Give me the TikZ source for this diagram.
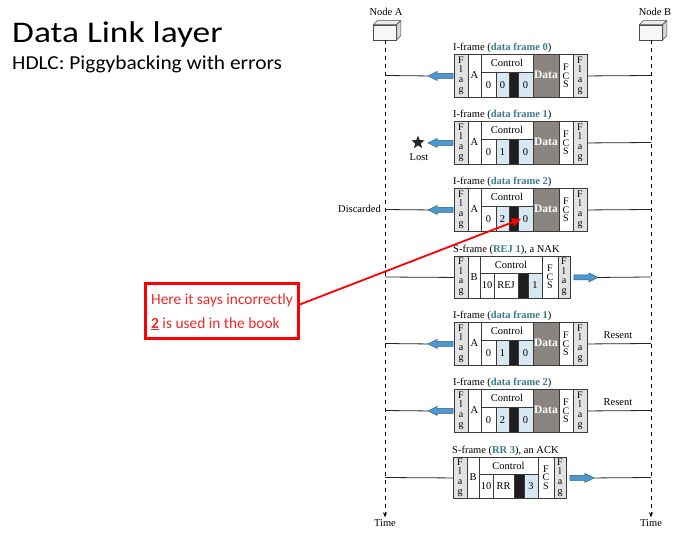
\documentclass[tikz,border=0pt]{standalone}
\usepackage{fontspec}
\setmainfont{Liberation Serif}
\newfontfamily\calib{Carlito}
\usetikzlibrary{arrows.meta,shapes.geometric,calc}
\definecolor{outl}{HTML}{3A3A3A}
\definecolor{flagfill}{HTML}{E2E2E2}
\definecolor{ltblue}{HTML}{D8E8F2}
\definecolor{blk}{HTML}{1E1E1E}
\definecolor{datagray}{HTML}{8A8581}
\definecolor{teallbl}{HTML}{3B7B8E}
\definecolor{arrblue}{HTML}{4F97CF}
\definecolor{arrdark}{HTML}{2A5F8A}
\definecolor{callred}{HTML}{FF0000}
\definecolor{calltext}{HTML}{F02828}
\tikzset{
 cell/.style={draw=outl,line width=0.6pt},
 frm/.style={draw=outl,line width=0.9pt,rectangle,inner sep=0pt},
 lbl/.style={font=\fontsize{10.5}{12}\selectfont,inner sep=0pt},
 txt/.style={font=\fontsize{10.5}{12}\selectfont,inner sep=0pt},
 vert/.style={font=\fontsize{10}{9.6}\selectfont,align=center,inner sep=0pt},
 vfcs/.style={font=\fontsize{10}{8.6}\selectfont,align=center,inner sep=0pt},
 wire/.style={line width=0.8pt,draw=black!85},
 barrow/.style={fill=arrblue,draw=arrdark,line width=0.5pt},
 life/.style={dash pattern=on 4pt off 4pt,line width=0.6pt,-{Stealth[length=5pt,width=4pt]}},
 nodebox/.style={draw=black!70,fill=black!3,line width=0.5pt,minimum width=23pt,minimum height=15pt,inner sep=0pt},
}
\newcommand\IFrame[4]{% name, ytop, label num, N(S)
 \node[lbl,anchor=south west] (#1lb) at (453,#2-1.5) {I-frame (\textcolor{teallbl}{\textbf{data frame #3}})};
 \draw[cell,fill=flagfill] (454,#2) rectangle (468,#2+43);
 \node[vert] (#1fl) at (461,#2+21.5) {F\\l\\a\\g};
 \draw[cell,fill=white] (468,#2) rectangle (481,#2+43);
 \node[txt] (#1ad) at (474.5,#2+21.5) {A};
 \draw[cell,fill=white] (481,#2) rectangle (533,#2+18);
 \node[txt] (#1ct) at (507,#2+9) {Control};
 \draw[cell,fill=white] (481,#2+18) rectangle (496,#2+43);
 \node[txt] (#1da) at (488.5,#2+31) {0};
 \draw[cell,fill=ltblue] (496,#2+18) rectangle (509,#2+43);
 \node[txt] (#1ns) at (502.5,#2+31) {#4};
 \draw[cell,fill=blk] (509,#2+18) rectangle (518,#2+43);
 \draw[cell,fill=ltblue] (518,#2+18) rectangle (533,#2+43);
 \node[txt] (#1nr) at (525.5,#2+31) {0};
 \draw[cell,fill=datagray] (533,#2) rectangle (559,#2+43);
 \node[txt,text=white,font=\fontsize{11.5}{12}\selectfont\bfseries] (#1dt) at (546,#2+21) {Data};
 \draw[cell,fill=white] (559,#2) rectangle (573,#2+43);
 \node[vfcs] (#1fc) at (566,#2+22) {F\\C\\S};
 \draw[cell,fill=flagfill] (573,#2) rectangle (587,#2+43);
 \node[vert] (#1fr) at (580,#2+21.5) {F\\l\\a\\g};
 \node[frm,minimum width=133pt,minimum height=43pt,anchor=north west] (#1) at (454,#2) {};
}
\newcommand\SFrame[8]{% name, x0, ytop, label, word, nr, wordwidth, height
 \pgfmathsetmacro\SFa{#2+14}
 \pgfmathsetmacro\SFb{\SFa+12}
 \pgfmathsetmacro\SFc{\SFb+14}
 \pgfmathsetmacro\SFd{\SFc+#7}
 \pgfmathsetmacro\SFe{\SFd+10}
 \pgfmathsetmacro\SFf{\SFe+14}
 \pgfmathsetmacro\SFg{\SFf+16}
 \pgfmathsetmacro\SFh{\SFg+12}
 \pgfmathsetmacro\SFyb{#3+#8}
 \pgfmathsetmacro\SFym{#3+17}
 \pgfmathsetmacro\SFyc{#3+#8/2}
 \pgfmathsetmacro\SFyl{(#3+17+#3+#8)/2}
 \pgfmathsetmacro\SFw{\SFh-#2}
 \node[lbl,anchor=south west] (#1lb) at (#2-1,#3-1.5) {#4};
 \draw[cell,fill=flagfill] (#2,#3) rectangle (\SFa,\SFyb);
 \node[vert] (#1fl) at ({(#2+\SFa)/2},\SFyc) {F\\l\\a\\g};
 \draw[cell,fill=white] (\SFa,#3) rectangle (\SFb,\SFyb);
 \node[txt] (#1ad) at ({(\SFa+\SFb)/2},\SFyc) {B};
 \draw[cell,fill=white] (\SFb,#3) rectangle (\SFf,\SFym);
 \node[txt] (#1ct) at ({(\SFb+\SFf)/2},{#3+8.5}) {Control};
 \draw[cell,fill=white] (\SFb,\SFym) rectangle (\SFc,\SFyb);
 \node[txt] (#1da) at ({(\SFb+\SFc)/2},\SFyl) {10};
 \draw[cell,fill=white] (\SFc,\SFym) rectangle (\SFd,\SFyb);
 \node[txt] (#1wd) at ({(\SFc+\SFd)/2},\SFyl) {#5};
 \draw[cell,fill=blk] (\SFd,\SFym) rectangle (\SFe,\SFyb);
 \draw[cell,fill=ltblue] (\SFe,\SFym) rectangle (\SFf,\SFyb);
 \node[txt] (#1nr) at ({(\SFe+\SFf)/2},\SFyl) {#6};
 \draw[cell,fill=white] (\SFf,#3) rectangle (\SFg,\SFyb);
 \node[vfcs] (#1fc) at ({(\SFf+\SFg)/2},\SFyc) {F\\C\\S};
 \draw[cell,fill=flagfill] (\SFg,#3) rectangle (\SFh,\SFyb);
 \node[vert] (#1fr) at ({(\SFg+\SFh)/2},\SFyc) {F\\l\\a\\g};
 \node[frm,minimum width=\SFw pt,minimum height=#8pt,anchor=north west] (#1) at (#2,#3) {};
}
\newcommand\LArrow[1]{%
 \coordinate (#1tip) at ([xshift=-26pt]#1.west);
 \draw[barrow] (#1tip) -- ++(9,-4.5) -- ++(0,2) -- ++(16,0) -- ++(0,5) -- ++(-16,0) -- ++(0,2) -- cycle;
}
\newcommand\RArrow[1]{%
 \coordinate (#1tail) at ([xshift=3pt]#1.east);
 \coordinate (#1tip) at ([xshift=27pt]#1.east);
 \draw[barrow] (#1tail) ++(0,-2.5) -- ++(15,0) -- ++(0,-2) -- (#1tip) -- ++(-9,4.5) -- ++(0,-2) -- ++(-15,0) -- cycle;
}
\begin{document}
\begin{tikzpicture}[x=1pt,y=-1pt]
\useasboundingbox[fill=white] (0,0) rectangle (695,537);
% title
\node[anchor=base west,font=\calib\fontsize{30}{30}\selectfont,inner sep=0pt,xscale=1.18,transform shape] (title) at (12,42.5) {Data Link layer};
\node[anchor=base west,font=\calib\fontsize{19.8}{20}\selectfont,inner sep=0pt,xscale=1.08,transform shape] (subtitle) at (12,69.5) {HDLC: Piggybacking with errors};
% nodes
\node[txt] (lA) at (386,12) {Node A};
\node[txt] (lB) at (655,12) {Node B};
\node[nodebox] (nA) at (385,32.5) {};
\draw[draw=black!70,fill=black!8,line width=0.5pt] (nA.north west) -- ++(4,-4) -- ++(23,0) -- ++(-4,4) -- cycle;
\draw[draw=black!70,fill=black!15,line width=0.5pt] (nA.north east) -- ++(4,-4) -- ++(0,15) -- ++(-4,4) -- cycle;
\node[nodebox] (nB) at (651,32.5) {};
\draw[draw=black!70,fill=black!8,line width=0.5pt] (nB.north west) -- ++(4,-4) -- ++(23,0) -- ++(-4,4) -- cycle;
\draw[draw=black!70,fill=black!15,line width=0.5pt] (nB.north east) -- ++(4,-4) -- ++(0,15) -- ++(-4,4) -- cycle;
\node[txt] (tA) at (385,523) {Time};
\node[txt] (tB) at (651,523) {Time};
\draw[life] (nA.south) -- ([yshift=2pt]tA.north);
\draw[life] (nB.south) -- ([yshift=2pt]tB.north);
% frame 0
\IFrame{f0}{54}{0}{0}
\coordinate (f0a) at (385,75.5); \coordinate (f0b) at (651,75.5);
\LArrow{f0}
\draw[wire] (f0a) -- (f0tip); \draw[wire] (f0.east) -- (f0b);
% frame 1 (lost)
\IFrame{f1}{121}{1}{1}
\coordinate (f1b) at (651,142.5);
\LArrow{f1}
\node[star,star points=5,star point ratio=2.4,fill=black!85,minimum size=14pt,inner sep=0pt] (lost) at (418,142.5) {};
\node[txt] (lostl) at (419,157.5) {Lost};
\draw[wire] (f1.east) -- (f1b);
% frame 2 (discarded)
\IFrame{f2}{188}{2}{2}
\coordinate (f2a) at (385,209.5); \coordinate (f2b) at (651,209.5);
\LArrow{f2}
\node[txt,anchor=east] (disc) at (381,209) {Discarded};
\draw[wire] (f2a) -- (f2tip); \draw[wire] (f2.east) -- (f2b);
% S-frame REJ 1
\SFrame{s3}{454}{256}{S-frame (\textcolor{teallbl}{\textbf{REJ 1}}), a NAK}{REJ}{1}{24}{42}
\coordinate (s3a) at (385,277); \coordinate (s3b) at (651,277);
\RArrow{s3}
\draw[wire] (s3a) -- (s3.west); \draw[wire] (s3tip) -- (s3b);
% frame 1 resent
\IFrame{f4}{322}{1}{1}
\coordinate (f4a) at (385,343.5); \coordinate (f4b) at (651,343.5);
\LArrow{f4}
\draw[wire] (f4a) -- (f4tip); \draw[wire] (f4.east) -- (f4b);
\node[txt] (rs4) at (618,335) {Resent};
% frame 2 resent
\IFrame{f5}{389}{2}{2}
\coordinate (f5a) at (385,410.5); \coordinate (f5b) at (651,410.5);
\LArrow{f5}
\draw[wire] (f5a) -- (f5tip); \draw[wire] (f5.east) -- (f5b);
\node[txt] (rs5) at (618,402) {Resent};
% S-frame RR 3
\SFrame{s6}{453}{457}{S-frame (\textcolor{teallbl}{\textbf{RR 3}}), an ACK}{RR}{3}{21}{41}
\coordinate (s6a) at (385,477.5); \coordinate (s6b) at (651,477.5);
\RArrow{s6}
\draw[wire] (s6a) -- (s6.west); \draw[wire] (s6tip) -- (s6b);
% callout
\node[draw=callred,line width=2.5pt,minimum width=153pt,minimum height=55pt,anchor=north west,inner sep=0pt] (co) at (144.25,282.25) {};
\node[anchor=base west,font=\calib\fontsize{15.4}{15}\selectfont,text=calltext,inner sep=0pt] (co1) at (151,304) {Here it says incorrectly};
\node[anchor=base west,font=\calib\fontsize{15.4}{15}\selectfont,text=calltext,inner sep=0pt] (co2) at (151,328) {\textbf{\underline{2}} is used in the book};
\coordinate (errpt) at (521,219);
\draw[callred,line width=1.8pt,-{Triangle[length=9pt,width=8pt]}] ([yshift=6.5pt]co.east) -- (errpt);
\end{tikzpicture}
\end{document}
